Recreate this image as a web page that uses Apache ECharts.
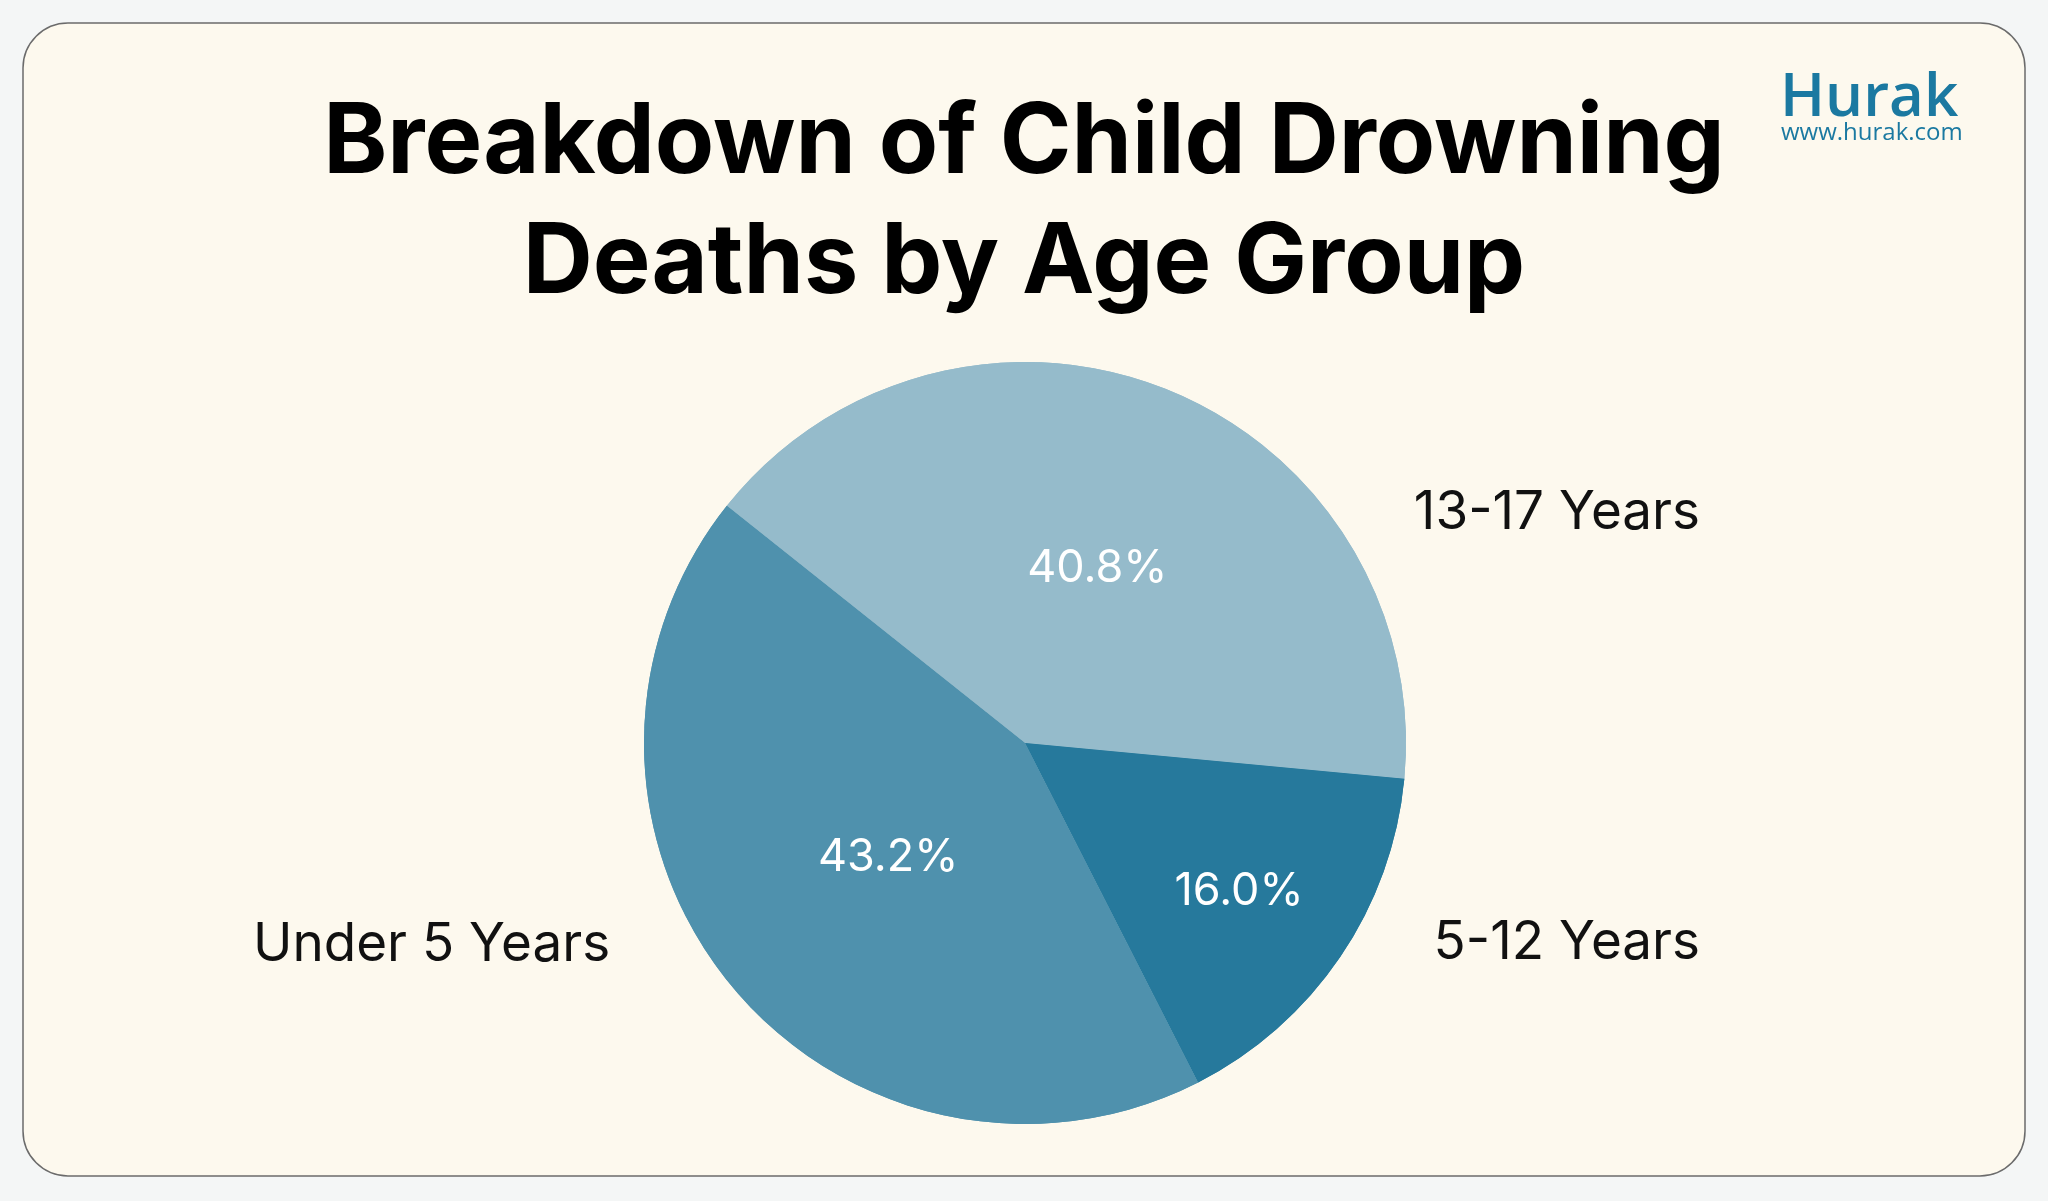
<!DOCTYPE html>
<html>
<head>
<meta charset="utf-8">
<title>Breakdown of Child Drowning Deaths by Age Group</title>
<script src="https://cdn.jsdelivr.net/npm/echarts@6/dist/echarts.min.js"></script>
<style>
  html, body { margin: 0; padding: 0; background: #f4f6f6; }
  #main { width: 2048px; height: 1201px; }
</style>
</head>
<body>
<div id="main"></div>
<script>
// data
var ageGroups = ['13-17 Years', '5-12 Years', 'Under 5 Years'];
var shares = [40.8, 16.0, 43.2];
var sliceColors = ['#95bbcb', '#26799c', '#4f91ad'];

;(function (gold) {
gold.DrowningPie = function () {
  this.el = document.getElementById('main');
};
gold.DrowningPie.prototype = {
  init: function () {
    this.formInit();
  },
  formInit: function () {
    let pieData = ageGroups.map(function (name, i) {
      return { name: name, value: shares[i], itemStyle: { color: sliceColors[i] } };
    });
    // where the name labels sit (right side right-aligned, left side left-aligned)
    let namePos = [
      { x: 1700, y: 513, align: 'right' },
      { x: 1700, y: 943, align: 'right' },
      { x: 253, y: 945, align: 'left' }
    ];
    // small radial nudges for the percent labels
    let pctShift = [
      { dx: 0, dy: 5 },
      { dx: 54, dy: 40 },
      { dx: 13, dy: -8 }
    ];
    let option = {
      backgroundColor: '#f4f6f6',
      animation: false,
      graphic: [
        {
          type: 'rect',
          z: -10,
          shape: { x: 23, y: 23, width: 2002, height: 1153, r: 45 },
          style: { fill: '#fdf9ee', stroke: '#6b6b6b', lineWidth: 1.5 }
        },
        {
          // title
          type: 'text',
          x: 1024,
          y: 84,
          style: {
            text: 'Breakdown of Child Drowning\nDeaths by Age Group',
            align: 'center',
            verticalAlign: 'top',
            font: 'bold 97px Inter',
            lineHeight: 120,
            fill: '#000'
          }
        },
        {
          type: 'text',
          x: 1780,
          y: 69,
          style: {
            text: 'Hurak',
            font: '600 60px "Open Sans"',
            fill: '#1b79a1'
          }
        },
        {
          type: 'text',
          x: 1781,
          y: 121,
          style: {
            text: 'www.hurak.com',
            font: '24px "Open Sans"',
            fill: '#1b79a1'
          }
        }
      ],
      series: [
        {
          type: 'pie',
          center: [1025, 743],
          radius: 381,
          startAngle: 141.5,
          clockwise: true,
          silent: true,
          data: pieData,
          itemStyle: { borderWidth: 0 },
          label: {
            show: true,
            position: 'inside',
            formatter: function (p) { return p.value.toFixed(1) + '%'; },
            color: '#fff',
            fontFamily: 'Inter',
            fontSize: 45,
            fontWeight: 'normal'
          },
          labelLine: { show: false },
          labelLayout: function (p) {
            return pctShift[p.dataIndex];
          }
        },
        {
          type: 'pie',
          center: [1025, 743],
          radius: 381,
          startAngle: 141.5,
          clockwise: true,
          silent: true,
          data: pieData,
          itemStyle: { color: 'rgba(0,0,0,0)', borderWidth: 0 },
          label: {
            show: true,
            position: 'outside',
            formatter: '{b}',
            color: '#111',
            fontFamily: 'Inter',
            fontSize: 53
          },
          labelLine: { show: false },
          labelLayout: function (p) {
            let q = namePos[p.dataIndex];
            return { x: q.x, y: q.y, align: q.align, verticalAlign: 'middle' };
          }
        }
      ]
    };
    this.createForm(option);
  },
  createForm: function (option) {
    let myChart = echarts.init(this.el);
    myChart.setOption(option);
  }
};
new gold.DrowningPie().init();
})(typeof window != 'undefined' ? window : this);
</script>
</body>
</html>
